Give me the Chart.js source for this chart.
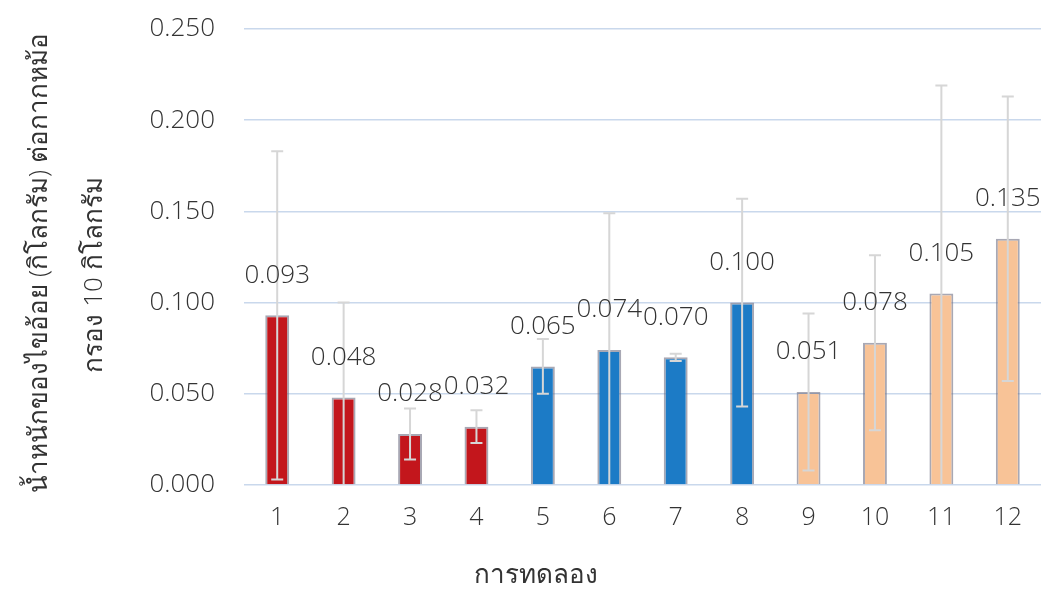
<!DOCTYPE html>
<html>
<head>
<meta charset="utf-8">
<script src="https://cdn.jsdelivr.net/npm/chart.js"></script>
<style>
  html, body { margin: 0; padding: 0; background: #ffffff; }
  #wrap { width: 1062px; height: 590px; }
</style>
</head>
<body>
<div id="wrap"><canvas id="waxChart" width="1062" height="590"></canvas></div>
<script>
// Chart data
const trials = ['1', '2', '3', '4', '5', '6', '7', '8', '9', '10', '11', '12'];
const waxWeight = [0.093, 0.048, 0.028, 0.032, 0.065, 0.074, 0.070, 0.100, 0.051, 0.078, 0.105, 0.135];
const waxError = [0.090, 0.052, 0.014, 0.009, 0.015, 0.075, 0.002, 0.057, 0.043, 0.048, 0.114, 0.078];
const yTicks = [0, 0.05, 0.10, 0.15, 0.20, 0.25];

const yTitle = ['น้ำหนักของไขอ้อย (กิโลกรัม) ต่อกากหม้อ', 'กรอง 10 กิโลกรัม'];
const xTitle = 'การทดลอง';

// Colours per group
const barColors = {
    red: '#c3161c',
    blue: '#1c7bc6',
    peach: '#f8c397'
};
const fillColors = waxWeight.map((v, i) => i < 4 ? barColors.red : (i < 8 ? barColors.blue : barColors.peach));

const textColor = '#333333';
const fontFamily = "'Open Sans', 'Noto Sans', 'DejaVu Sans', sans-serif";

// Error bars + value labels
const errorBarPlugin = {
    id: 'errorBars',
    afterDatasetsDraw(chart) {
        const ctx = chart.ctx;
        const yScale = chart.scales.y;
        const meta = chart.getDatasetMeta(0);
        ctx.save();
        ctx.strokeStyle = '#d6d6d6';
        ctx.lineWidth = 2;
        meta.data.forEach((bar, i) => {
            const v = waxWeight[i];
            const e = waxError[i];
            const low = v - e;
            const yTop = yScale.getPixelForValue(v + e);
            const yBot = yScale.getPixelForValue(Math.max(low, 0));
            ctx.beginPath();
            ctx.moveTo(bar.x, yTop);
            ctx.lineTo(bar.x, yBot);
            ctx.moveTo(bar.x - 6, yTop);
            ctx.lineTo(bar.x + 6, yTop);
            if (low > 0) {
                ctx.moveTo(bar.x - 6, yBot);
                ctx.lineTo(bar.x + 6, yBot);
            }
            ctx.stroke();
        });
        // value labels
        ctx.fillStyle = textColor;
        ctx.font = '300 26px ' + fontFamily;
        ctx.textAlign = 'center';
        ctx.textBaseline = 'middle';
        meta.data.forEach((bar, i) => {
            ctx.fillText(waxWeight[i].toFixed(3), bar.x, bar.y - 40);
        });
        ctx.restore();
    }
};

// Axis titles
const axisTitlePlugin = {
    id: 'axisTitles',
    afterDraw(chart) {
        const ctx = chart.ctx;
        const area = chart.chartArea;
        ctx.save();
        ctx.fillStyle = textColor;
        ctx.font = '300 26px ' + fontFamily;
        ctx.textAlign = 'center';
        ctx.textBaseline = 'middle';
        // y title, rotated
        const cy = (area.top + area.bottom) / 2 + 6;
        ctx.save();
        ctx.translate(40, cy);
        ctx.rotate(-Math.PI / 2);
        ctx.fillText(yTitle[0], 0, 0);
        ctx.restore();
        ctx.save();
        ctx.translate(95, cy + 12);
        ctx.rotate(-Math.PI / 2);
        ctx.fillText(yTitle[1], 0, 0);
        ctx.restore();
        // x title
        ctx.fillText(xTitle, area.left + 292, chart.height - 14);
        ctx.restore();
    }
};

new Chart(document.getElementById('waxChart').getContext('2d'), {
    type: 'bar',
    data: {
        labels: trials,
        datasets: [{
            data: waxWeight,
            backgroundColor: fillColors,
            borderColor: 'rgba(110, 110, 130, 0.6)',
            borderWidth: 2,
            barPercentage: 0.36,
            categoryPercentage: 1
        }]
    },
    options: {
        responsive: false,
        animation: false,
        layout: { padding: { top: 29, right: 21, bottom: 0, left: 0 } },
        plugins: {
            legend: { display: false },
            tooltip: { enabled: false }
        },
        scales: {
            x: {
                grid: { display: false },
                border: { display: false },
                ticks: {
                    color: textColor,
                    font: { family: fontFamily, size: 25, weight: 300 },
                    padding: 10,
                    maxRotation: 0
                },
                afterFit(scale) { scale.height = 105; }
            },
            y: {
                min: 0,
                max: 0.25,
                afterBuildTicks(scale) {
                    scale.ticks = yTicks.map(v => ({ value: v }));
                },
                grid: { color: '#c9d8ec', lineWidth: 1.5, drawTicks: false },
                border: { display: false },
                ticks: {
                    color: textColor,
                    font: { family: fontFamily, size: 26, weight: 300 },
                    padding: 29,
                    callback: v => Number(v).toFixed(3)
                },
                afterFit(scale) {
                    scale.width = 244;
                    scale.paddingTop = 0;
                    scale.paddingBottom = 0;
                }
            }
        }
    },
    plugins: [errorBarPlugin, axisTitlePlugin]
});
</script>
</body>
</html>
